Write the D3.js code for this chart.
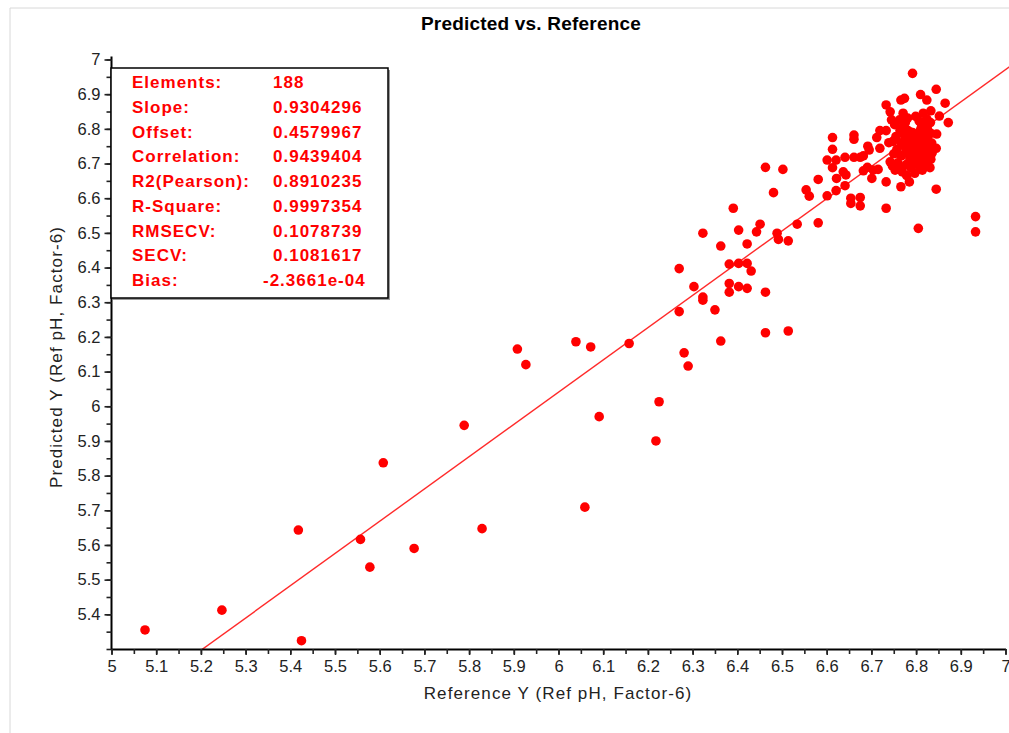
<!DOCTYPE html>
<html>
<head>
    <style>
        body { margin: 0; background: #fff; }
        svg { display: block; font-family: "Liberation Sans", Arial, sans-serif; }
    </style>
</head>
<body>
    <svg width="1009" height="733"></svg>

    <script src="https://d3js.org/d3.v7.min.js"></script>
    <script>
        // reference value (x) and predicted value (y) for each of the 188 samples
        const refX = [
            5.075, 5.247, 5.418, 5.425, 5.557, 5.578, 5.608, 5.677, 5.789, 5.829,
            5.908, 5.927, 6.039, 6.072, 6.158, 6.091, 6.218, 6.225, 6.059, 6.281,
            6.290, 6.270, 6.270, 6.303, 6.323, 6.323, 6.350, 6.363, 6.363, 6.382,
            6.403, 6.422, 6.431, 6.382, 6.382, 6.403, 6.422, 6.422, 6.463, 6.463,
            6.514, 6.489, 6.492, 6.514, 6.534, 6.581, 6.451, 6.443, 6.403, 6.323,
            6.391, 6.481, 6.463, 6.502, 6.554, 6.561, 6.601, 6.621, 6.641, 6.581,
            6.622, 6.637, 6.643, 6.613, 6.601, 6.621, 6.613, 6.613, 6.641, 6.661,
            6.675, 6.682, 6.661, 6.661, 6.654, 6.654, 6.675, 6.675, 6.733, 6.805,
            6.933, 6.933, 6.682, 6.691, 6.704, 6.715, 6.701, 6.733, 6.766, 6.785,
            6.845, 6.753, 6.766, 6.742, 6.692, 6.695, 6.719, 6.739, 6.712, 6.719,
            6.733, 6.813, 6.833, 6.845, 6.846, 6.872, 6.852, 6.833, 6.742, 6.733,
            6.865, 6.824, 6.810, 6.845, 6.792, 6.766, 6.774,
            6.752, 6.755, 6.757, 6.759, 6.761, 6.763, 6.764, 6.766, 6.767, 6.769,
            6.771, 6.772, 6.774, 6.775, 6.776, 6.778, 6.779, 6.781, 6.782, 6.784,
            6.785, 6.786, 6.788, 6.776, 6.790, 6.792, 6.793, 6.794, 6.796, 6.797,
            6.799, 6.812, 6.802, 6.803, 6.804, 6.806, 6.807, 6.809, 6.810, 6.811,
            6.813, 6.814, 6.816, 6.817, 6.818, 6.820, 6.821, 6.822, 6.824, 6.825,
            6.826, 6.828, 6.829, 6.831, 6.832, 6.833, 6.835, 6.836, 6.745, 6.748,
            6.750, 6.747, 6.790, 6.800, 6.808, 6.815, 6.795, 6.812, 6.803, 6.770,
            6.823
        ];
        const predY = [
            5.355, 5.412, 5.643, 5.324, 5.616, 5.536, 5.837, 5.590, 5.945, 5.647,
            6.165, 6.120, 6.186, 6.171, 6.181, 5.970, 5.900, 6.013, 5.709, 6.154,
            6.116, 6.397, 6.273, 6.345, 6.315, 6.306, 6.278, 6.462, 6.188, 6.410,
            6.412, 6.412, 6.390, 6.354, 6.329, 6.345, 6.340, 6.468, 6.329, 6.212,
            6.217, 6.499, 6.481, 6.477, 6.525, 6.529, 6.525, 6.503, 6.508, 6.499,
            6.571, 6.616, 6.689, 6.683, 6.624, 6.606, 6.607, 6.622, 6.636, 6.654,
            6.657, 6.676, 6.667, 6.688, 6.710, 6.710, 6.741, 6.775, 6.718, 6.718,
            6.718, 6.722, 6.782, 6.770, 6.600, 6.585, 6.602, 6.578, 6.571, 6.513,
            6.547, 6.503, 6.679, 6.689, 6.681, 6.683, 6.657, 6.647, 6.633, 6.647,
            6.626, 6.681, 6.681, 6.705, 6.750, 6.739, 6.744, 6.760, 6.775, 6.795,
            6.795, 6.712, 6.712, 6.744, 6.785, 6.818, 6.837, 6.852, 6.849, 6.869,
            6.874, 6.883, 6.899, 6.914, 6.960, 6.883, 6.888,
            6.812, 6.778, 6.741, 6.702, 6.688, 6.826, 6.795, 6.760, 6.722, 6.676,
            6.845, 6.808, 6.781, 6.749, 6.731, 6.697, 6.665, 6.831, 6.795, 6.768,
            6.742, 6.713, 6.688, 6.818, 6.789, 6.789, 6.756, 6.728, 6.703, 6.672,
            6.836, 6.806, 6.777, 6.748, 6.719, 6.693, 6.822, 6.795, 6.763, 6.737,
            6.706, 6.681, 6.845, 6.811, 6.783, 6.752, 6.726, 6.697, 6.829, 6.801,
            6.770, 6.742, 6.716, 6.688, 6.818, 6.787, 6.759, 6.731, 6.826, 6.764,
            6.728, 6.693, 6.740, 6.760, 6.750, 6.765, 6.772, 6.790, 6.735, 6.802,
            6.785
        ];

        const statLabels = ["Elements:", "Slope:", "Offset:", "Correlation:", "R2(Pearson):",
                            "R-Square:", "RMSECV:", "SECV:", "Bias:"];
        const statValues = ["188", "0.9304296", "0.4579967", "0.9439404", "0.8910235",
                            "0.9997354", "0.1078739", "0.1081617", "-2.3661e-04"];

        const slope = 0.9304296, offset = 0.4579967;

        const xMajor = d3.range(50, 71).map(d => d / 10);   // 5 .. 7
        const yMajor = d3.range(54, 71).map(d => d / 10);   // 5.4 .. 7
        const xMinor = d3.range(100, 141).map(d => d / 20);
        const yMinor = d3.range(106, 141).map(d => d / 20);

        const svg = d3.select("svg");

        // outer panel border
        svg.append("line").attr("x1", 10).attr("x2", 10).attr("y1", 8).attr("y2", 733)
            .attr("stroke", "#d8d8d8");
        svg.append("line").attr("x1", 10).attr("x2", 1009).attr("y1", 8).attr("y2", 8)
            .attr("stroke", "#d8d8d8");

        const x = d3.scaleLinear().domain([5, 7]).range([111.5, 1005.5]);
        const y = d3.scaleLinear().domain([5.3, 7]).range([649, 59.5]);

        // title
        svg.append("text")
            .attr("x", 531).attr("y", 30)
            .attr("text-anchor", "middle")
            .attr("font-size", 19).attr("font-weight", "bold")
            .attr("letter-spacing", 0.2)
            .text("Predicted vs. Reference");

        // clip for plot area
        svg.append("clipPath").attr("id", "plot")
            .append("rect").attr("x", 111).attr("y", 55).attr("width", 898).attr("height", 594);

        // regression line
        svg.append("line")
            .attr("clip-path", "url(#plot)")
            .attr("x1", x(5)).attr("y1", y(slope * 5 + offset))
            .attr("x2", x(7.01)).attr("y2", y(slope * 7.01 + offset))
            .attr("stroke", "#ff2a2a").attr("stroke-width", 1.4);

        // points
        svg.append("g")
            .selectAll("circle")
            .data(refX.map((d, i) => [d, predY[i]]))
            .join("circle")
            .attr("cx", d => x(d[0]))
            .attr("cy", d => y(d[1]))
            .attr("r", 4.8)
            .attr("fill", "#ff0000");

        // axes
        const styleAxis = g => {
            g.select(".domain").attr("stroke", "#000").attr("stroke-width", 2);
            g.selectAll(".tick line").attr("stroke", "#222").attr("stroke-width", 1.6);
            g.selectAll("text").attr("fill", "#222").attr("font-size", 16.5)
                .attr("font-family", "'Liberation Sans', Arial, sans-serif");
        };

        svg.append("g")
            .attr("transform", `translate(0,${y(5.3)})`)
            .call(d3.axisBottom(x).tickValues(xMinor).tickSize(5).tickFormat("").tickSizeOuter(0))
            .call(styleAxis);
        svg.append("g")
            .attr("transform", `translate(0,${y(5.3)})`)
            .call(d3.axisBottom(x).tickValues(xMajor).tickSize(6).tickPadding(5)
                .tickFormat(d3.format("~g")).tickSizeOuter(0))
            .call(styleAxis)
            .call(g => g.select(".domain").remove());

        svg.append("g")
            .attr("transform", `translate(${x(5)},0)`)
            .call(d3.axisLeft(y).tickValues(yMinor).tickSize(5).tickFormat("").tickSizeOuter(0))
            .call(styleAxis)
            .call(g => g.select(".domain").attr("d", `M0,${y(5.3)}V${y(7) - 3}`));
        svg.append("g")
            .attr("transform", `translate(${x(5)},0)`)
            .call(d3.axisLeft(y).tickValues(yMajor).tickSize(7).tickPadding(4)
                .tickFormat(d3.format("~g")).tickSizeOuter(0))
            .call(styleAxis)
            .call(g => g.select(".domain").remove());

        // axis titles
        svg.append("text")
            .attr("x", 558).attr("y", 699)
            .attr("text-anchor", "middle")
            .attr("font-size", 17).attr("letter-spacing", 1.1).attr("fill", "#222")
            .text("Reference Y (Ref pH, Factor-6)");
        svg.append("text")
            .attr("transform", `translate(62,${357}) rotate(-90)`)
            .attr("text-anchor", "middle")
            .attr("font-size", 17).attr("letter-spacing", 1.1).attr("fill", "#222")
            .text("Predicted Y (Ref pH, Factor-6)");

        // statistics box
        const box = svg.append("g");
        box.append("rect")
            .attr("x", 113).attr("y", 70).attr("width", 277).attr("height", 230)
            .attr("fill", "#9a9a9a");
        box.append("rect")
            .attr("x", 111).attr("y", 68).attr("width", 277).attr("height", 230)
            .attr("fill", "#fff").attr("stroke", "#000").attr("stroke-width", 1.5);

        const rowY = d3.scalePoint().domain(statLabels).range([88, 286]);
        box.selectAll(".lab")
            .data(statLabels)
            .join("text")
            .attr("x", 132).attr("y", d => rowY(d))
            .attr("font-size", 17).attr("font-weight", "bold").attr("letter-spacing", 1)
            .attr("fill", "#ff0000")
            .text(d => d);
        box.selectAll(".val")
            .data(statValues)
            .join("text")
            .attr("x", d => d.startsWith("-") ? 263 : 273)
            .attr("y", (d, i) => rowY(statLabels[i]))
            .attr("font-size", 17).attr("font-weight", "bold").attr("letter-spacing", 1)
            .attr("fill", "#ff0000")
            .text(d => d);
    </script>
</body>
</html>
